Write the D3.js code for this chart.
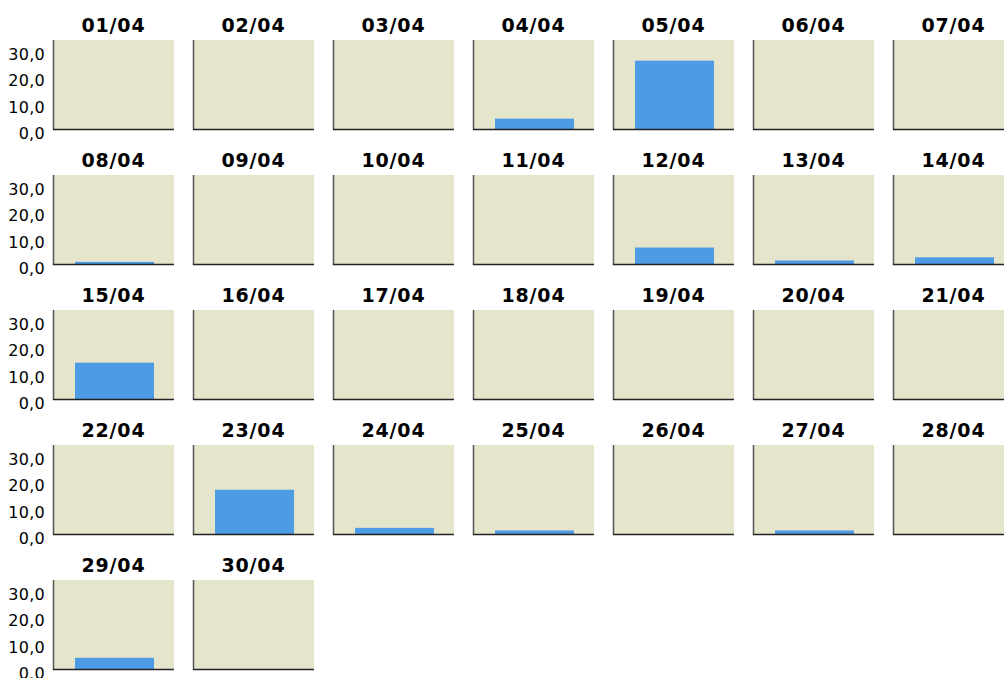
<!DOCTYPE html>
<html><head><meta charset="utf-8">
<script src="https://cdn.jsdelivr.net/npm/d3@7"></script>
<style>body{margin:0;background:#fff;}svg{display:block;}</style>
</head><body>
<svg id="chart" width="1004" height="678"></svg>
<script>
const days = ["01/04","02/04","03/04","04/04","05/04","06/04","07/04",
  "08/04","09/04","10/04","11/04","12/04","13/04","14/04",
  "15/04","16/04","17/04","18/04","19/04","20/04","21/04",
  "22/04","23/04","24/04","25/04","26/04","27/04","28/04",
  "29/04","30/04"];
const values = [0,0,0,4.3,26.2,0,0,
  1.2,0,0,0,6.6,1.7,2.9,
  14.1,0,0,0,0,0,0,
  0,17.1,2.7,1.7,0,1.7,0,
  4.6,0];
const yTicks = [0,10,20,30];
const yMax = 34;

(function(){
const svg = d3.select("#chart");
const cols = 7, marginLeft = 53, marginTop = 40, pw = 121, ph = 90, stepX = 140, stepY = 135;
const font = "'DejaVu Sans', Verdana, sans-serif";

const y = d3.scaleLinear().domain([0, yMax]).range([ph, 0]);
const fmt = v => d3.format(".1f")(v).replace(".", ",");

days.forEach((d, i) => {
  const c = i % cols, r = Math.floor(i / cols);
  const g = svg.append("g").attr("transform", `translate(${marginLeft + c*stepX},${marginTop + r*stepY})`);
  const x = d3.scaleBand().domain([d]).range([0, pw]).paddingInner(0.21).paddingOuter(0.21);
  g.append("rect").attr("x",0).attr("y",0).attr("width",pw).attr("height",ph).attr("fill","#e5e5cb");
  g.append("rect")
    .attr("x", x(d) + 1).attr("width", x.bandwidth())
    .attr("y", y(values[i])).attr("height", ph - y(values[i]))
    .attr("fill", "#4d9ae5");
  g.append("line").attr("x1",0.5).attr("x2",0.5).attr("y1",0).attr("y2",ph).attr("stroke","#555").attr("stroke-width",1.5);
  g.append("line").attr("x1",0).attr("x2",pw).attr("y1",ph-0.5).attr("y2",ph-0.5).attr("stroke","#222").attr("stroke-width",1.5);
  g.append("text").attr("x", pw/2).attr("y", -8).attr("text-anchor","middle")
    .attr("font-family", font).attr("font-weight","bold").attr("font-size","19px")
    .attr("letter-spacing","0.8px").attr("fill","#000").text(d);
  if (c === 0) {
    const ax = d3.axisLeft(y).tickValues(yTicks).tickFormat(fmt).tickSize(0).tickPadding(8);
    const ag = g.append("g").call(ax);
    ag.select(".domain").remove();
    ag.selectAll("text").attr("font-family", font).attr("font-size","16px")
      .attr("letter-spacing","0.3px").attr("fill","#000").attr("dy","0.55em");
  }
});
})();
</script>
</body></html>
